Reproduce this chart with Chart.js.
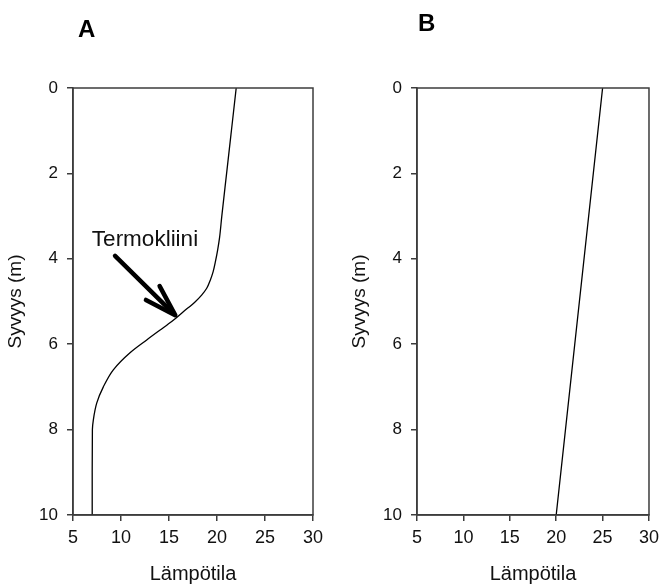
<!DOCTYPE html>
<html>
<head>
<meta charset="utf-8">
<script src="https://cdn.jsdelivr.net/npm/chart.js@4.4.1/dist/chart.umd.min.js"></script>
<style>
  html,body{margin:0;padding:0;background:#fff;}
  .panel{position:absolute;top:0;height:586px;}
  #wrapA{left:0;width:332px;}
  #wrapB{left:332px;width:333px;}
</style>
</head>
<body>
<div class="panel" id="wrapA"><canvas id="chartA"></canvas></div>
<div class="panel" id="wrapB"><canvas id="chartB"></canvas></div>
<script>
/* ---- data (depth in m, temperature) ---- */
const depthA = [0, 1, 2, 3, 3.5, 3.79, 4.05, 4.3, 4.5, 4.69, 4.85, 5.01, 5.24, 5.47, 5.68, 5.9, 6.2, 6.6, 7.0, 7.38, 7.77, 8.0, 9, 10];
const tempA  = [22, 21.5, 21.0, 20.5, 20.27, 20.07, 19.85, 19.6, 19.3, 18.93, 18.4, 17.71, 16.49, 15.28, 14.0, 12.68, 10.94, 9.2, 8.16, 7.47, 7.12, 7.02, 7.0, 7.0];
const depthB = [0, 10];
const tempB  = [25, 20];

const xTicks = [5, 10, 15, 20, 25, 30];
const yTicks = [0, 2, 4, 6, 8, 10];

const xTitle = 'Lämpötila';
const yTitle = 'Syvyys (m)';
const noteText = 'Termokliini';
const noteAt = {x: 12.5, y: 3.69};       // label centre / baseline
const arrowFrom = {x: 9.38, y: 3.93};    // arrow tail
const arrowTo = {x: 15.65, y: 5.32};     // arrow tip

/* ---- shared style ---- */
Chart.defaults.font.family = "'Liberation Sans', Arial, sans-serif";
Chart.defaults.color = '#111';
const AX = '#3c3c3c';

const frame = {
  id: 'frame',
  afterDraw(c){
    const a = c.chartArea, ctx = c.ctx;
    ctx.save(); ctx.strokeStyle = AX; ctx.lineWidth = 1.5;
    ctx.strokeRect(a.left, a.top, a.right - a.left, a.bottom - a.top);
    ctx.restore();
  }
};

function panelLabel(txt, x, y){
  return {
    id: 'lbl' + txt,
    afterDraw(c){
      const ctx = c.ctx;
      ctx.save(); ctx.fillStyle = '#000';
      ctx.font = "bold 24px 'Liberation Sans', Arial, sans-serif";
      ctx.textBaseline = 'alphabetic'; ctx.fillText(txt, x, y);
      ctx.restore();
    }
  };
}

const thermo = {
  id: 'thermo',
  afterDraw(c){
    const xs = c.scales.x, ys = c.scales.y, ctx = c.ctx;
    ctx.save();
    ctx.fillStyle = '#111';
    ctx.font = "22.5px 'Liberation Sans', Arial, sans-serif";
    ctx.textAlign = 'center'; ctx.textBaseline = 'alphabetic';
    ctx.fillText(noteText, xs.getPixelForValue(noteAt.x), ys.getPixelForValue(noteAt.y));
    const x0 = xs.getPixelForValue(arrowFrom.x), y0 = ys.getPixelForValue(arrowFrom.y);
    const x1 = xs.getPixelForValue(arrowTo.x), y1 = ys.getPixelForValue(arrowTo.y);
    const ang = Math.atan2(y1 - y0, x1 - x0), hl = 33, hw = 0.3;
    ctx.strokeStyle = '#000'; ctx.lineWidth = 4.5; ctx.lineCap = 'round'; ctx.lineJoin = 'round';
    ctx.beginPath(); ctx.moveTo(x0, y0); ctx.lineTo(x1 - 3*Math.cos(ang), y1 - 3*Math.sin(ang)); ctx.stroke();
    ctx.beginPath();
    ctx.moveTo(x1 - hl*Math.cos(ang - hw), y1 - hl*Math.sin(ang - hw));
    ctx.lineTo(x1, y1);
    ctx.lineTo(x1 - hl*Math.cos(ang + hw), y1 - hl*Math.sin(ang + hw));
    ctx.stroke();
    ctx.restore();
  }
};

function profile(id, depths, temps, opt){
  const ctx = document.getElementById(id);
  return new Chart(ctx, {
    type: 'scatter',
    data: {datasets: [{data: depths.map((d, i) => ({x: temps[i], y: d})),
      showLine: true, borderColor: '#000', borderWidth: 1.3, pointRadius: 0,
      cubicInterpolationMode: 'monotone', fill: false}]},
    options: {
      indexAxis: 'y',
      responsive: true, maintainAspectRatio: false, animation: false,
      layout: {padding: {left: 0, top: 88, right: opt.padRight, bottom: 0}},
      plugins: {legend: {display: false}, tooltip: {enabled: false}},
      scales: {
        x: {type: 'linear', position: 'bottom', min: 5, max: 30,
          afterBuildTicks: s => { s.ticks = xTicks.map(v => ({value: v})); },
          afterFit: s => { s.height = 71; },
          grid: {display: true, drawOnChartArea: false, drawTicks: true, tickLength: 6, color: AX, lineWidth: 1.5},
          border: {display: true, color: AX, width: 1.5},
          ticks: {font: {size: 18}, color: '#111', padding: 6, maxRotation: 0},
          title: {display: true, text: xTitle, font: {size: 20}, color: '#111', padding: {top: 0, bottom: 0}}},
        y: {type: 'linear', position: 'left', min: 0, max: 10, reverse: true,
          afterBuildTicks: s => { s.ticks = yTicks.map(v => ({value: v})); },
          afterFit: s => { s.width = opt.yWidth; },
          grid: {display: true, drawOnChartArea: false, drawTicks: true, tickLength: 6, color: AX, lineWidth: 1.5},
          border: {display: true, color: AX, width: 1.5},
          ticks: {font: {size: 17}, color: '#111', padding: 9},
          title: {display: true, text: yTitle, font: {size: 19}, color: '#111', padding: {top: opt.titlePad, bottom: 0}}}
      }
    },
    plugins: opt.plugins
  });
}

profile('chartA', depthA, tempA, {padRight: 19, yWidth: 73, titlePad: 4,
  plugins: [frame, thermo, panelLabel('A', 78, 37)]});
profile('chartB', depthB, tempB, {padRight: 8, yWidth: 85, titlePad: 16,
  plugins: [frame, panelLabel('B', 86, 31)]});
</script>
</body>
</html>
